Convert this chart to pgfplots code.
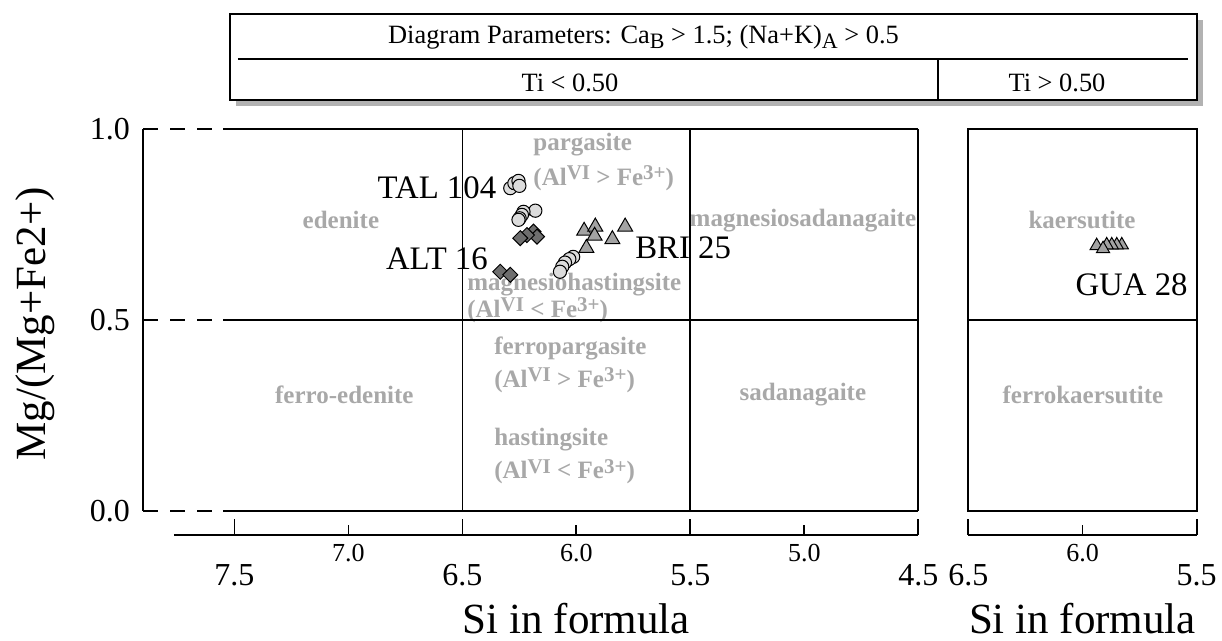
\documentclass[border=0pt]{standalone}
\usepackage{fontspec}
\setmainfont{Liberation Serif}
\usepackage{pgfplots}
\pgfplotsset{compat=1.18}
\definecolor{lbl}{HTML}{A8A8A8}
\definecolor{circ}{HTML}{DCDCDC}
\definecolor{diam}{HTML}{6E6E6E}
\definecolor{tri}{HTML}{A3A3A3}
\newcommand\tickfont{\fontsize{16}{19}\selectfont}
\newcommand\minfont{\fontsize{13}{15}\selectfont}
\newcommand\regfont{\fontsize{12.5}{14}\selectfont\bfseries\color{lbl}}
\newcommand\samfont{\fontsize{16.4}{19}\selectfont}
\newcommand\labfont{\fontsize{21.5}{25}\selectfont}
\newcommand\hdrfont{\fontsize{13.2}{15}\selectfont}
\newcommand\sups[1]{\raisebox{0.5ex}{\fontsize{10.5}{12}\selectfont #1}}
\newcommand\subs[1]{\raisebox{-0.45ex}{\fontsize{11}{12}\selectfont #1}}
\newcommand\AlFe[1]{(Al\sups{VI} #1 Fe\sups{3+})}
\begin{document}
\begin{tikzpicture}
\useasboundingbox (-71.65pt,-65.15pt) rectangle (539.35pt,255.35pt);
% ---------------- left panel ----------------
\begin{axis}[at={(0pt,0pt)}, anchor=south west, scale only axis,
  width=387.5pt, height=190.85pt,
  xmin=4.5, xmax=7.9, x dir=reverse, ymin=0, ymax=1,
  axis line style={draw=none}, xtick=\empty,
  ytick={0,0.5,1}, yticklabels={0.0,0.5,1.0}, major tick length=0pt,
  yticklabel style={font=\tickfont, inner sep=0pt, xshift=-6.5pt},
  clip=false]
% region labels
\begin{scope}[every node/.style={font=\regfont, inner sep=0pt}]
\node at (axis cs:7.033,0.761) {edenite};
\node at (axis cs:7.018,0.303) {ferro-edenite};
\node at (axis cs:5.006,0.761) {magnesiosadanagaite};
\node at (axis cs:5.006,0.303) {sadanagaite};
\node[anchor=west] at (axis cs:6.19,0.958) {pargasite};
\node[anchor=west] at (axis cs:6.19,0.871) {\AlFe{>}};
\node[anchor=west] at (axis cs:6.48,0.592) {magnesiohastingsite};
\node[anchor=west] at (axis cs:6.48,0.525) {\AlFe{<}};
\node[anchor=west] at (axis cs:6.362,0.4255) {ferropargasite};
\node[anchor=west] at (axis cs:6.362,0.342) {\AlFe{>}};
\node[anchor=west] at (axis cs:6.362,0.185) {hastingsite};
\node[anchor=west] at (axis cs:6.362,0.102) {\AlFe{<}};
\end{scope}
% frame and field boundaries
\draw[line width=0.9pt] (axis cs:7.9,0) -- (axis cs:7.9,1);
\draw[line width=0.9pt] (axis cs:4.5,0) -- (axis cs:4.5,1);
\draw[line width=0.9pt] (axis cs:6.5,0) -- (axis cs:6.5,1);
\draw[line width=0.9pt] (axis cs:5.5,0) -- (axis cs:5.5,1);
\draw[line width=0.9pt, dash pattern=on 7.5pt off 6pt] (axis cs:7.9,0) -- (axis cs:7.55,0);
\draw[line width=0.9pt, dash pattern=on 7.5pt off 6pt] (axis cs:7.9,0.5) -- (axis cs:7.55,0.5);
\draw[line width=0.9pt, dash pattern=on 7.5pt off 6pt] (axis cs:7.9,1) -- (axis cs:7.55,1);
\draw[line width=0.9pt] (axis cs:7.55,0) -- (axis cs:4.5,0);
\draw[line width=0.9pt] (axis cs:7.55,0.5) -- (axis cs:4.5,0.5);
\draw[line width=0.9pt] (axis cs:7.55,1) -- (axis cs:4.5,1);
% offset x axis
\draw[line width=0.9pt] ([yshift=-12.15pt]axis cs:7.766,0) -- ([yshift=-12.15pt]axis cs:4.5,0);
\draw[line width=0.9pt] ([yshift=-12.15pt]axis cs:7.5,0) -- ([yshift=-4.3pt]axis cs:7.5,0);
\draw[line width=0.9pt] ([yshift=-12.15pt]axis cs:6.5,0) -- ([yshift=-4.3pt]axis cs:6.5,0);
\draw[line width=0.9pt] ([yshift=-12.15pt]axis cs:5.5,0) -- ([yshift=-4.3pt]axis cs:5.5,0);
\draw[line width=0.9pt] ([yshift=-12.15pt]axis cs:4.5,0) -- ([yshift=-4.3pt]axis cs:4.5,0);
\draw[line width=0.9pt] ([yshift=-12.15pt]axis cs:7.0,0) -- ([yshift=-7.15pt]axis cs:7.0,0);
\draw[line width=0.9pt] ([yshift=-12.15pt]axis cs:6.0,0) -- ([yshift=-7.15pt]axis cs:6.0,0);
\draw[line width=0.9pt] ([yshift=-12.15pt]axis cs:5.0,0) -- ([yshift=-7.15pt]axis cs:5.0,0);
\begin{scope}[every node/.style={font=\tickfont, inner sep=0pt}]
\node at ([yshift=-32.15pt]axis cs:7.5,0) {7.5};
\node at ([yshift=-32.15pt]axis cs:6.5,0) {6.5};
\node at ([yshift=-32.15pt]axis cs:5.5,0) {5.5};
\node at ([yshift=-32.15pt]axis cs:4.5,0) {4.5};
\end{scope}
\begin{scope}[every node/.style={font=\minfont, inner sep=0pt}]
\node at ([yshift=-21.15pt]axis cs:7.0,0) {7.0};
\node at ([yshift=-21.15pt]axis cs:6.0,0) {6.0};
\node at ([yshift=-21.15pt]axis cs:5.0,0) {5.0};
\end{scope}
\node[font=\labfont, anchor=base, inner sep=0pt] at ([yshift=-61.3pt]axis cs:6.0,0) {Si in formula};
% data
\addplot[only marks, mark=*, mark size=3.3pt, mark options={fill=circ, draw=black, line width=0.5pt}] coordinates {
(6.290,0.845) (6.272,0.858) (6.254,0.864) (6.250,0.851)
(6.180,0.786) (6.232,0.783) (6.239,0.775) (6.249,0.766) (6.254,0.762)
(6.014,0.665) (6.031,0.659) (6.050,0.650) (6.062,0.639) (6.072,0.626)};
\addplot[only marks, mark=square*, mark size=2.65pt, mark options={rotate=45, fill=diam, draw=black, line width=0.5pt}] coordinates {
(6.188,0.731) (6.173,0.718) (6.217,0.722) (6.246,0.714) (6.334,0.626) (6.290,0.618)};
\addplot[only marks, mark=triangle*, mark size=4.3pt, mark options={fill=tri, draw=black, line width=0.5pt}] coordinates {
(5.966,0.733) (5.917,0.744) (5.920,0.720) (5.956,0.688) (5.842,0.711) (5.786,0.744)};
% sample labels
\node[font=\samfont, anchor=east, inner sep=0pt] at (axis cs:6.35,0.845) {TAL 104};
\node[font=\samfont, anchor=east, inner sep=0pt] at (axis cs:6.387,0.661) {ALT 16};
\node[font=\samfont, anchor=west, inner sep=0pt] at (axis cs:5.743,0.688) {BRI 25};
\end{axis}
% ---------------- right panel ----------------
\begin{axis}[at={(412.5pt,0pt)}, anchor=south west, scale only axis,
  width=114.2pt, height=190.85pt,
  xmin=5.5, xmax=6.5, x dir=reverse, ymin=0, ymax=1,
  axis line style={line width=0.9pt}, xtick=\empty, ytick=\empty,
  clip=false]
\begin{scope}[every node/.style={font=\regfont, inner sep=0pt}]
\node at (axis cs:6.002,0.761) {kaersutite};
\node at (axis cs:5.998,0.303) {ferrokaersutite};
\end{scope}
\draw[line width=0.9pt] (axis cs:6.5,0.5) -- (axis cs:5.5,0.5);
\draw[line width=0.9pt] ([yshift=-12.15pt]axis cs:6.5,0) -- ([yshift=-12.15pt]axis cs:5.5,0);
\draw[line width=0.9pt] ([yshift=-12.15pt]axis cs:6.5,0) -- ([yshift=-4.3pt]axis cs:6.5,0);
\draw[line width=0.9pt] ([yshift=-12.15pt]axis cs:5.5,0) -- ([yshift=-4.3pt]axis cs:5.5,0);
\draw[line width=0.9pt] ([yshift=-12.15pt]axis cs:6.0,0) -- ([yshift=-7.15pt]axis cs:6.0,0);
\node[font=\tickfont, inner sep=0pt] at ([yshift=-32.15pt]axis cs:6.5,0) {6.5};
\node[font=\tickfont, inner sep=0pt] at ([yshift=-32.15pt]axis cs:5.5,0) {5.5};
\node[font=\minfont, inner sep=0pt] at ([yshift=-21.15pt]axis cs:6.0,0) {6.0};
\node[font=\labfont, anchor=base, inner sep=0pt] at ([yshift=-61.3pt]axis cs:6.0,0) {Si in formula};
\addplot[only marks, mark=triangle*, mark size=3.8pt, mark options={fill=tri, draw=black, line width=0.5pt}] coordinates {
(5.828,0.696) (5.850,0.696) (5.872,0.696) (5.894,0.696) (5.938,0.694) (5.910,0.686)};
\node[font=\samfont, anchor=east, inner sep=0pt] at (axis cs:5.538,0.591) {GUA 28};
\end{axis}
% ---------------- y label ----------------
\node[font=\labfont, rotate=90, inner sep=0pt] at (-54.15pt,93.4pt) {Mg/(Mg+Fe2+)};
% ---------------- header ----------------
\fill[black!30] (46.35pt,202.35pt) rectangle (529.85pt,245.35pt);
\draw[line width=0.8pt, fill=white] (43.35pt,205.35pt) rectangle (526.85pt,248.35pt);
\draw[line width=0.8pt] (47.35pt,225.95pt) -- (522.35pt,225.95pt);
\draw[line width=0.8pt] (397.35pt,225.95pt) -- (397.35pt,205.35pt);
\node[font=\hdrfont, inner sep=0pt] at (250.1pt,236.8pt) {Diagram Parameters: Ca\subs{B} > 1.5; (Na+K)\subs{A} > 0.5};
\node[font=\hdrfont, inner sep=0pt] at (213.35pt,214pt) {Ti < 0.50};
\node[font=\hdrfont, inner sep=0pt] at (456.85pt,214pt) {Ti > 0.50};
\end{tikzpicture}
\end{document}
